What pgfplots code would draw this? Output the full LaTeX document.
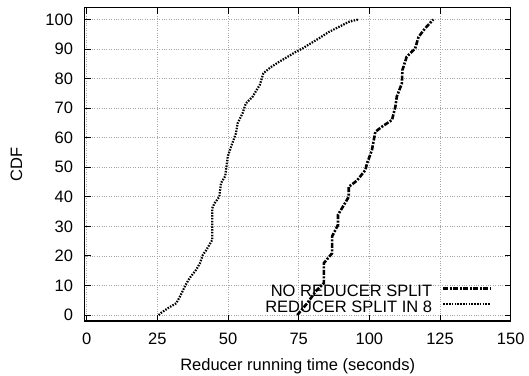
\documentclass[border=0pt]{standalone}
\usepackage{pgfplots}
\pgfplotsset{compat=1.18}
\usepackage{fontspec}
\setmainfont{Liberation Sans}
\pgfplotsset{layers/mylayers/.define layer set={axis background,axis grid,legendbg,axis ticks,axis lines,axis tick labels,pre main,main,axis descriptions,axis foreground}{}}
\begin{document}
\fontsize{16.5}{19.8}\selectfont
\begin{tikzpicture}
\begin{axis}[
  name=ax,
  set layers=mylayers,
  scale only axis,
  width=426pt, height=313.3pt,
  xmin=-0.7, xmax=150, ymin=-2, ymax=104,
  xtick={0,25,...,150}, ytick={0,10,...,100},
  tick align=inside, tick pos=both,
  major tick length=6pt,
  axis line style={line width=1.5pt},
  every tick/.style={black, line width=1pt},
  grid=major,
  major grid style={gray!70, dotted, line width=0.8pt},
  /pgf/number format/assume math mode=true,
  yticklabel style={xshift=-6pt},
  xticklabel style={yshift=-6.5pt},
  xlabel={Reducer running time (seconds)},
  ylabel={CDF},
  xlabel style={yshift=-2pt},
  ylabel style={yshift=12pt},
  legend cell align=right,
  legend plot pos=right,
  legend style={draw=none, fill=none, anchor=north east,
    at={(rel axis cs:0.956,0.116)}, inner sep=0pt, row sep=0pt,
    /tikz/column sep=10pt,
    nodes={inner sep=0pt, text height=12pt, text depth=3.3pt}},
  legend image code/.code={\draw[#1] (0pt,4pt) -- (47pt,4pt);},
]
\addplot[draw=none, fill=white, forget plot, on layer=legendbg] coordinates {(64.5,-2) (64.5,11.6) (146.6,11.6) (146.6,-2)} -- cycle;
\addplot[black, line width=2.6pt, dash pattern=on 5pt off 1.5pt on 2pt off 1.5pt] coordinates {
(74.5,0) (78,4) (81,8) (83.9,10.8) (83.9,17.6) (86.8,20.9) (86.8,26.6) (88.9,30.5) (88.9,33.9) (92.7,40) (92.7,43.4) (95.6,45.5) (98.6,49.1) (99.2,51.4) (100.9,55.8) (102.1,62) (104.4,63.7) (108,66) (109.2,70.5) (109.7,73.9) (111.5,78.4) (111.7,82.9) (113.2,87.4) (116.2,90.2) (117.4,94.1) (119.7,97) (122.6,100)
};
\addlegendentry{NO REDUCER SPLIT}
\addplot[black, line width=2.2pt, dash pattern=on 1.5pt off 1.3pt] coordinates {
(25.5,0) (26.4,0.8) (29,2.5) (31.7,4) (33,6.3) (35,10.2) (36.4,12.5) (38.7,15.3) (40.1,17.6) (41.1,20.4) (42.3,22) (44.4,25.4) (44.4,36.1) (45.2,37.8) (46.9,40) (47.5,44.6) (49,47) (49.9,53.6) (51.1,57) (52.8,61.5) (53.4,64.9) (55.1,68.2) (56.3,71.6) (58.7,73.9) (61.3,78) (62.5,81.8) (65,83.8) (68.1,85.7) (73.9,89) (76.3,90.2) (82.1,93.6) (85.7,95.8) (89.2,97.5) (92.7,99.2) (96,100)
};
\addlegendentry{REDUCER SPLIT IN 8}
\end{axis}
\pgfresetboundingbox
\path ([xshift=-84.7pt,yshift=-54pt]ax.south west) rectangle ([xshift=18.3pt,yshift=7.7pt]ax.north east);
\end{tikzpicture}
\end{document}
